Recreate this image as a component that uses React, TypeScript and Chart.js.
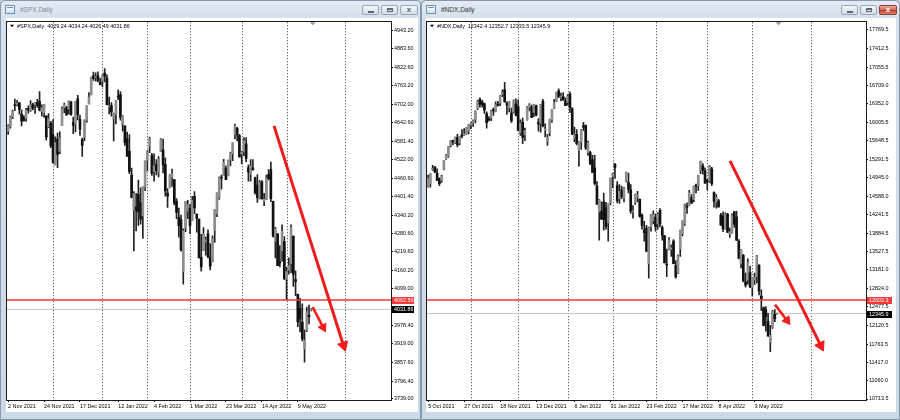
import React, { useEffect, useRef } from "react";
import { Chart, registerables } from "chart.js";
Chart.register(...registerables);

// ---------- calendar ----------
const holidays = ["2021-11-25", "2021-12-24", "2022-01-17", "2022-02-21", "2022-04-15"];
const monthNames = ["Jan", "Feb", "Mar", "Apr", "May", "Jun", "Jul", "Aug", "Sep", "Oct", "Nov", "Dec"];

// ---------- #SPX daily ----------
const spxStart = "2021-11-02";
const spxOpen = [4613,4630,4662,4699,4702,4707,4670,4659,4656,4689,4680,4702,4700,4708,4712,4679,4675,4664,4628,4640,
4602,4504,4589,4548,4632,4690,4691,4687,4711,4643,4637,4720,4652,4587,4594,4650,4703,4733,4795,4789,4795,4775,
4779,4804,4788,4693,4698,4655,4669,4729,4734,4637,4632,4589,4548,4471,4357,4366,4408,4381,4337,4431,
4519,4566,4535,4482,4505,4480,4548,4553,4506,4412,4430,4464,4456,4385,4332,4325,4156,4298,4354,
4363,4322,4401,4343,4327,4202,4224,4252,4279,4203,4188,4289,4345,4398,4462,4469,4494,4470,4522,4541,4603,4624,4600,
4540,4547,4573,4495,4474,4494,4462,4438,4396,4449,4385,4390,4473,4489,4385,4255,4279,4186,4223,4253,
4131,4160,4181,4271,4129,4081,4035,3990,3903,3963,4013,4029.24];
const spxHigh = [4635,4664,4683,4719,4715,4708,4684,4665,4689,4697,4714,4706,4708,4718,4744,4700,4702,4664,4672,4646,
4652,4596,4608,4612,4694,4706,4695,4713,4711,4660,4712,4731,4667,4592,4651,4697,4740,4791,4807,4805,4808,4787,
4798,4819,4798,4726,4708,4673,4714,4749,4744,4665,4632,4611,4603,4494,4417,4411,4454,4429,4432,4517,
4551,4595,4542,4540,4521,4531,4590,4588,4527,4427,4472,4490,4456,4394,4363,4340,4295,4385,4388,
4375,4401,4417,4343,4327,4277,4299,4268,4292,4247,4272,4358,4413,4465,4471,4522,4501,4520,4546,4576,4637,4627,4604,
4549,4593,4593,4504,4521,4521,4464,4472,4453,4453,4411,4471,4489,4513,4386,4300,4279,4240,4308,4270,
4169,4200,4308,4271,4158,4082,4068,4050,3965,4039,4046,4034.24];
const spxLow = [4604,4624,4655,4681,4697,4670,4631,4647,4646,4673,4679,4684,4672,4692,4680,4663,4659,4585,4626,4560,
4510,4504,4495,4541,4632,4675,4666,4670,4666,4606,4612,4651,4600,4532,4583,4643,4703,4733,4780,4778,4775,4765,
4759,4775,4700,4671,4663,4582,4638,4717,4650,4614,4568,4531,4475,4396,4223,4288,4306,4310,4264,4420,
4484,4544,4470,4451,4471,4465,4548,4478,4402,4365,4429,4434,4373,4328,4268,4222,4114,4286,4328,
4279,4322,4345,4284,4199,4157,4224,4209,4200,4161,4187,4251,4335,4391,4425,4469,4456,4468,4501,4518,4589,4582,4529,
4507,4534,4514,4451,4451,4487,4408,4381,4393,4392,4371,4390,4455,4384,4268,4200,4175,4171,4189,4129,
4062,4147,4152,4107,4077,3975,3958,3929,3859,3959,3984,4026.49];
const spxClose = [4631,4661,4680,4698,4702,4685,4647,4649,4683,4683,4701,4689,4705,4698,4683,4691,4701,4595,4655,4567,
4513,4577,4538,4592,4687,4701,4667,4712,4669,4634,4710,4669,4621,4568,4649,4697,4726,4791,4786,4793,4779,4766,
4797,4794,4701,4696,4677,4670,4713,4726,4659,4663,4577,4533,4483,4398,4410,4356,4350,4327,4432,4516,
4547,4589,4477,4501,4484,4522,4587,4504,4419,4402,4471,4475,4380,4349,4305,4226,4289,4385,4374,
4306,4387,4363,4329,4201,4171,4278,4260,4204,4173,4262,4358,4412,4463,4461,4512,4456,4520,4543,4576,4632,4602,4530,
4546,4583,4525,4481,4500,4488,4413,4397,4447,4393,4392,4462,4459,4394,4272,4296,4175,4184,4288,4132,
4155,4175,4300,4147,4123,3991,4001,3935,3930,4024,4008,4031.86];
const spxDateTicks = ["2 Nov 2021", "24 Nov 2021", "17 Dec 2021", "12 Jan 2022", "4 Feb 2022", "1 Mar 2022", "23 Mar 2022", "14 Apr 2022", "9 May 2022"];
const spxPriceTicks = [4943.2, 4883.6, 4822.6, 4763.2, 4702.0, 4642.6, 4581.4, 4522.0, 4460.6, 4401.4, 4340.2, 4280.6, 4219.6, 4160.2, 4099.0, 3978.4, 3919.0, 3857.6, 3796.4, 3739.0];
const spxLevel = 4062.56;
// trend arrows: [fromBar, fromPrice, toBar, toPrice]
const spxArrows = [
  [118.4, 4631.5, 149.35, 3913.9],
  [135.6, 4039.7, 140.3, 3972.9],
];

// ---------- #NDX daily ----------
const ndxStart = "2021-10-05";
const ndxOpen = [14775,14830,15100,15150,15030,14920,14890,15100,15300,15350,15560,15650,15600,15710,15600,15760,15760,15780,15830,
15950,15990,16040,16260,16440,16390,16360,16160,16050,16090,16250,16210,16350,16370,16530,16620,16370,16270,16180,16200,16350,
16300,15800,16000,15760,16050,16290,16290,16190,16320,16000,15980,16400,15850,15640,15800,16040,16270,16400,16600,16480,16490,16410,
16380,16540,16260,15690,15770,15460,15620,15940,15940,15420,15420,15290,15130,14780,14290,14300,14480,14370,14080,14460,
14970,15200,14790,14540,14710,14550,14880,14850,14710,14290,14470,14570,14530,14230,13940,13980,13300,14000,14120,
14190,14060,14320,13990,13830,13290,13570,13570,13730,13270,13120,13580,13870,14060,14400,14420,14560,14520,14790,14790,15080,15170,15080,
14890,14880,15110,14660,14470,14500,14230,14210,13970,14240,13870,13890,14290,14190,13730,13300,13460,12950,12990,13130,
12850,13000,13050,13270,12680,12460,12420,12200,11800,12080,12330,12342.4];
const ndxHigh = [14990,15020,15180,15150,15110,14940,14990,15270,15390,15540,15650,15660,15720,15770,15730,15860,15880,15900,15960,
16000,16050,16220,16420,16470,16420,16370,16200,16110,16230,16270,16390,16400,16510,16620,16764,16390,16400,16270,16430,16450,
16430,16050,16080,15890,16300,16360,16330,16340,16330,16070,16340,16440,15970,15770,16060,16250,16440,16580,16640,16560,16570,16470,
16530,16580,16280,15910,15860,15630,15860,16000,15950,15640,15450,15370,15370,14870,14530,14480,14650,14470,14445,14940,
15030,15210,14870,14810,14780,14760,15050,15030,14810,14410,14630,14680,14540,14250,14110,14030,14000,14240,14310,
14250,14270,14350,14020,13840,13580,13800,13660,13760,13360,13470,13940,14120,14440,14460,14700,14620,14780,14820,14990,15260,15210,15130,
14910,15180,15140,14670,14620,14530,14260,14290,14270,14260,13980,14250,14300,14300,13760,13570,13480,13120,13390,13250,
13030,13120,13460,13280,12800,12470,12480,12350,12120,12410,12420,12352.7];
const ndxLow = [14760,14760,15080,15040,14890,14790,14850,15090,15290,15330,15530,15570,15590,15530,15570,15700,15750,15770,15780,
15880,15920,15990,16240,16290,16290,16170,15890,16020,16030,16130,16200,16310,16320,16490,16380,16150,16200,16000,16180,16120,
15840,15750,15590,15650,16040,16220,16090,16110,16120,15830,15810,15910,15720,15560,15740,16000,16260,16400,16470,16410,16420,16320,
16330,16190,15765,15630,15570,15160,15480,15840,15480,15370,15190,15040,14800,14430,13750,14140,13940,13960,13730,14420,
14750,14930,14460,14450,14540,14480,14860,14650,14260,14170,14430,14480,14190,13960,13730,13530,13020,13920,14060,
13920,13960,14000,13750,13310,13050,13560,13440,13295,13020,13110,13440,13830,14030,14260,14410,14450,14480,14650,14700,15020,15010,14835,
14710,14850,14790,14380,14360,14380,14030,13910,13960,13890,13800,13880,13990,13740,13390,13220,12950,12850,12910,12840,
12680,12900,12930,12700,12400,12110,12010,11910,11620,12060,12190,12333.5];
const ndxClose = [14931,15005,15121,15049,14892,14829,14969,15268,15377,15536,15640,15620,15720,15569,15721,15735,15767,15887,15950,
15980,16030,16210,16400,16345,16339,16232,15994,16049,16222,16216,16340,16323,16497,16573,16393,16330,16390,16026,16417,16136,
15842,15990,15712,15844,16283,16336,16094,16330,16136,15963,16339,15938,15869,15709,16055,16246,16373,16574,16488,16486,16428,16320,
16501,16280,15772,15765,15592,15619,15854,15906,15513,15611,15213,15043,14832,14438,14521,14153,14139,14009,14440,14930,
15018,15139,14501,14687,14580,14742,15040,14720,14296,14311,14621,14617,14203,14032,13891,13538,13983,14234,14237,
14006,14244,14053,13838,13320,13274,13755,13600,13301,13047,13450,13937,14119,14420,14379,14660,14456,14778,14781,14988,15244,15088,14839,
14862,15173,14828,14491,14570,14383,14034,13964,14249,13900,13914,14220,14049,13750,13405,13567,12970,12890,13320,12855,
13020,13030,13450,12780,12620,12120,12290,11920,11930,12390,12250,12345.9];
const ndxDateTicks = ["5 Oct 2021", "27 Oct 2021", "18 Nov 2021", "13 Dec 2021", "6 Jan 2022", "31 Jan 2022", "23 Feb 2022", "17 Mar 2022", "8 Apr 2022", "3 May 2022"];
const ndxPriceTicks = [17769.5, 17412.5, 17055.5, 16709.0, 16352.0, 16005.5, 15648.5, 15291.5, 14945.0, 14588.0, 14241.5, 13884.5, 13527.5, 13181.0, 12824.0, 12477.5, 12120.5, 11763.5, 11417.0, 11060.0, 10713.5];
const ndxLevel = 12603.3;
const ndxArrows = [
  [134.1, 15265.0, 174.4, 11732.2],
  [154.1, 12516.9, 159.4, 12214.0],
];

// ---------- styles ----------
const FONT_FAMILY = "'Liberation Sans', Arial, sans-serif";
const AXIS_FONT_SIZE = 5.4;
const BULL = "#8e8e8e";
const BEAR = "#111111";
const WICK = "#222222";
const BID_COLOR = "#c4c4c4";
const LEVEL_COLOR = "#f23a3a";
const ARROW_COLOR = "#f01c1c";
const ARROW_STYLES = [{ width: 3, head: 6 }, { width: 2.6, head: 5 }];

interface PaneConfig {
  symbol: string;
  start: string;
  open: number[]; high: number[]; low: number[]; close: number[];
  dateTicks: string[];
  priceTicks: number[];
  level: number;
  arrows: number[][];
  decimals: number;
  yMin: number; yMax: number;
  slots: number;
  futureSeparatorGap: number;
  axisWidth: number; xAxisHeight: number; padLeft: number; padTop: number;
  boxWidth: number;
}

function tradingDays(start: string, count: number): Date[] {
  const out: Date[] = [];
  const d = new Date(start + "T00:00:00Z");
  while (out.length < count) {
    const dow = d.getUTCDay();
    const iso = d.toISOString().slice(0, 10);
    if (dow !== 0 && dow !== 6 && !holidays.includes(iso)) out.push(new Date(d.getTime()));
    d.setUTCDate(d.getUTCDate() + 1);
  }
  return out;
}
const fmtDate = (d: Date) => `${d.getUTCDate()} ${monthNames[d.getUTCMonth()]} ${d.getUTCFullYear()}`;

function arrowDataset(a: number[], st: { width: number; head: number }) {
  const [x1, y1, x2, y2] = a;
  return {
    type: "line",
    xAxisID: "xl",
    data: [{ x: x1, y: y1 }, { x: x2, y: y2 }],
    borderColor: ARROW_COLOR,
    borderWidth: st.width,
    borderCapStyle: "butt",
    pointRadius: (c: any) => (c.dataIndex === 1 ? st.head : 0),
    pointStyle: "triangle",
    pointBackgroundColor: ARROW_COLOR,
    pointBorderColor: ARROW_COLOR,
    pointBorderWidth: 1,
    pointRotation: (c: any) => {
      const xs = c.chart.scales.xl, ys = c.chart.scales.y;
      const dx = xs.getPixelForValue(x2) - xs.getPixelForValue(x1);
      const dy = ys.getPixelForValue(y2) - ys.getPixelForValue(y1);
      return (Math.atan2(dx, -dy) * 180) / Math.PI;
    },
    order: 1,
  };
}

function buildChart(canvas: HTMLCanvasElement, p: PaneConfig) {
  const n = p.close.length;
  const dates = tradingDays(p.start, n);
  const labels: string[] = [];
  for (let i = 0; i < p.slots; i++) labels.push(i < n ? fmtDate(dates[i]) : "");
  const tickIdx = labels.map((l, i) => (l && p.dateTicks.includes(l) ? i : -1)).filter((i) => i >= 0);
  const separators: number[] = [];
  for (let i = 1; i < n; i++) if (dates[i].getUTCMonth() !== dates[i - 1].getUTCMonth()) separators.push(i);
  separators.push(separators[separators.length - 1] + p.futureSeparatorGap);

  const wick = p.low.map((l, i) => [l, p.high[i]]);
  const body = p.open.map((o, i) => [Math.min(o, p.close[i]), Math.max(o, p.close[i])]);
  const bodyColors = p.open.map((o, i) => (p.close[i] >= o ? BULL : BEAR));
  const last = n - 1;
  const xMin = -0.5, xMax = p.slots - 0.5;
  const hLine = (y: number) => [{ x: xMin, y }, { x: xMax, y }];
  const font = { family: FONT_FAMILY, size: AXIS_FONT_SIZE };
  const fontStr = `${AXIS_FONT_SIZE}px ${FONT_FAMILY}`;
  const fmt = (v: number) => v.toFixed(p.decimals);

  const decor = {
    id: "mtDecor",
    beforeDatasetsDraw(chart: any) {
      const { ctx, chartArea: a, scales } = chart;
      ctx.save();
      ctx.strokeStyle = "#3a3a3a";
      ctx.lineWidth = 1;
      ctx.setLineDash([1, 2]);
      for (const i of separators) {
        const px = Math.round(scales.x.getPixelForValue(i)) + 0.5;
        ctx.beginPath();
        ctx.moveTo(px, a.top);
        ctx.lineTo(px, a.bottom);
        ctx.stroke();
      }
      ctx.restore();
    },
    afterDraw(chart: any) {
      const { ctx, chartArea: a, scales } = chart;
      const ys = scales.y;
      ctx.save();
      // frame
      ctx.strokeStyle = "#1a1a1a";
      ctx.lineWidth = 1;
      ctx.strokeRect(Math.round(a.left) - 0.5, Math.round(a.top) - 0.5, Math.round(a.right - a.left) + 1, Math.round(a.bottom - a.top) + 1);
      // header
      ctx.fillStyle = "#000";
      const hx = a.left + 3, hy = a.top + 4;
      ctx.beginPath();
      ctx.moveTo(hx, hy - 1.5);
      ctx.lineTo(hx + 4, hy - 1.5);
      ctx.lineTo(hx + 2, hy + 1);
      ctx.closePath();
      ctx.fill();
      ctx.font = fontStr;
      ctx.textBaseline = "middle";
      ctx.textAlign = "left";
      ctx.fillText(`${p.symbol},Daily  ${fmt(p.open[last])} ${fmt(p.high[last])} ${fmt(p.low[last])} ${fmt(p.close[last])}`, hx + 7, hy);
      // chart shift marker
      const sx = scales.x.getPixelForValue(last) + 1.5;
      ctx.fillStyle = "#9a9a9a";
      ctx.beginPath();
      ctx.moveTo(sx - 3, a.top);
      ctx.lineTo(sx + 3, a.top);
      ctx.lineTo(sx, a.top + 3);
      ctx.closePath();
      ctx.fill();
      // price boxes
      const box = (val: number, bg: string) => {
        const y = ys.getPixelForValue(val);
        ctx.fillStyle = bg;
        ctx.fillRect(a.right + 1, Math.round(y) - 3, p.boxWidth, 7);
        ctx.fillStyle = "#fff";
        ctx.fillText(fmt(val), a.right + 3, Math.round(y) + 0.5);
      };
      box(p.level, LEVEL_COLOR);
      box(p.close[last], "#000");
      ctx.restore();
    },
  };

  const datasets: any[] = [
    { type: "line", xAxisID: "xl", data: hLine(p.close[last]), borderColor: BID_COLOR, borderWidth: 1, pointRadius: 0, order: 6 },
    { type: "bar", data: wick, backgroundColor: WICK, barThickness: 1, grouped: false, order: 5 },
    { type: "bar", data: body, backgroundColor: bodyColors, barThickness: 2, minBarLength: 1, grouped: false, order: 4 },
    { type: "line", xAxisID: "xl", data: hLine(p.level), borderColor: LEVEL_COLOR, borderWidth: 1.5, pointRadius: 0, order: 3 },
    ...p.arrows.map((a, k) => arrowDataset(a, ARROW_STYLES[k])),
  ];

  return new Chart(canvas, {
    type: "bar",
    data: { labels, datasets },
    plugins: [decor],
    options: {
      animation: false,
      responsive: false,
      devicePixelRatio: 1,
      events: [],
      layout: { autoPadding: false, padding: { left: p.padLeft, top: p.padTop, right: 0, bottom: 0 } },
      plugins: { legend: { display: false }, tooltip: { enabled: false } },
      scales: {
        x: {
          type: "category",
          offset: true,
          afterBuildTicks: (s: any) => {
            s.ticks = s.ticks.filter((t: any) => tickIdx.includes(t.value));
          },
          afterFit: (s: any) => {
            s.height = p.xAxisHeight;
          },
          ticks: {
            autoSkip: false,
            maxRotation: 0,
            minRotation: 0,
            align: "start",
            padding: 1.5,
            color: "#000",
            font,
            callback: (v: any) => labels[v],
          },
          grid: { drawOnChartArea: false, drawTicks: true, tickLength: 2, offset: false, color: "#000" },
          border: { display: true, color: "#1a1a1a" },
        },
        xl: { type: "linear", axis: "x", display: false, min: xMin, max: xMax, offset: false },
        y: {
          type: "linear",
          position: "right",
          min: p.yMin,
          max: p.yMax,
          afterBuildTicks: (s: any) => {
            s.ticks = p.priceTicks.map((v) => ({ value: v }));
          },
          afterFit: (s: any) => {
            s.width = p.axisWidth;
          },
          ticks: { autoSkip: false, padding: 1, color: "#000", font, callback: (v: any) => Number(v).toFixed(p.decimals) },
          grid: { drawOnChartArea: false, drawTicks: true, tickLength: 2, color: "#000" },
          border: { display: true, color: "#1a1a1a" },
        },
      },
    } as any,
  });
}

const spxConfig: PaneConfig = {
  symbol: "#SPX", start: spxStart,
  open: spxOpen, high: spxHigh, low: spxLow, close: spxClose,
  dateTicks: spxDateTicks, priceTicks: spxPriceTicks, level: spxLevel, arrows: spxArrows,
  decimals: 2, yMin: 3735.7, yMax: 4970.2, slots: 171, futureSeparatorGap: 26,
  axisWidth: 27, xAxisHeight: 12, padLeft: 1, padTop: 3, boxWidth: 22,
};
const ndxConfig: PaneConfig = {
  symbol: "#NDX", start: ndxStart,
  open: ndxOpen, high: ndxHigh, low: ndxLow, close: ndxClose,
  dateTicks: ndxDateTicks, priceTicks: ndxPriceTicks, level: ndxLevel, arrows: ndxArrows,
  decimals: 1, yMin: 10694.5, yMax: 17912.3, slots: 195, futureSeparatorGap: 26,
  axisWidth: 30, xAxisHeight: 12, padLeft: 1, padTop: 3, boxWidth: 25,
};

function Pane({ cfg, width, height }: { cfg: PaneConfig; width: number; height: number }) {
  const ref = useRef<HTMLCanvasElement | null>(null);
  useEffect(() => {
    const chart = buildChart(ref.current as HTMLCanvasElement, cfg);
    return () => chart.destroy();
  }, [cfg]);
  return <canvas ref={ref} width={width} height={height} style={{ display: "block", width, height }} />;
}

function Btn({ right, w, kind, red }: { right: number; w: number; kind: string; red?: boolean }) {
  const base: React.CSSProperties = {
    position: "absolute", top: 4, right, width: w, height: 10, boxSizing: "border-box",
    borderRadius: 2,
    border: red ? "1px solid #8e3b31" : "1px solid #95a6ba",
    background: red ? "linear-gradient(180deg,#eab1a4 0%,#d26a58 45%,#c2432f 55%,#d9836f 100%)" : "linear-gradient(180deg,#f4f7fa 0%,#e1e8ef 50%,#d2dce6 100%)",
  };
  const glyph = red ? "#fff" : "#5b6777";
  return (
    <div style={base}>
      {kind === "min" && <div style={{ position: "absolute", left: 5, top: 5, width: 6, height: 1.5, background: glyph }} />}
      {kind === "max" && <div style={{ position: "absolute", left: 5, top: 2, width: 6, height: 4, border: `1px solid ${glyph}`, borderTopWidth: 2, boxSizing: "border-box" }} />}
      {kind === "close" && (
        <div style={{ position: "absolute", left: 0, top: -1, width: "100%", textAlign: "center", fontSize: 8, lineHeight: "10px", color: glyph, fontFamily: FONT_FAMILY, fontWeight: 700 }}>x</div>
      )}
    </div>
  );
}

function MTWindow(props: { left: number; width: number; title: string; active: boolean; clientLeft: number; clientWidth: number; children: any }) {
  const { left, width, title, active, clientLeft, clientWidth, children } = props;
  return (
    <div
      style={{
        position: "absolute", left, top: 0, width, height: 420, boxSizing: "border-box",
        border: "1px solid #8798ad", borderRadius: "5px 5px 0 0",
        background: "linear-gradient(180deg,#e3ebf4 0px,#d5e0ec 17px,#cbd8e6 100%)",
      }}
    >
      <div style={{ position: "absolute", left: 4, top: 4, width: 10, height: 9, boxSizing: "border-box", border: "1px solid #6c8fb6", background: "linear-gradient(180deg,#ffffff,#cfe0f1)" }}>
        <div style={{ position: "absolute", left: 1, top: 1, width: 6, height: 1, background: "#6c8fb6" }} />
      </div>
      <div style={{ position: "absolute", left: 19, top: 5, fontSize: 6.5, lineHeight: "8px", color: active ? "#333" : "#7f8b99", fontFamily: FONT_FAMILY, whiteSpace: "nowrap" }}>{title}</div>
      <Btn right={2} w={18} kind="close" red={active} />
      <Btn right={22} w={17} kind="max" />
      <Btn right={41} w={17} kind="min" />
      <div style={{ position: "absolute", left: clientLeft, top: 17, width: clientWidth, height: 394, background: "#fff" }}>{children}</div>
    </div>
  );
}

export default function App() {
  return (
    <div style={{ position: "fixed", left: 0, top: 0, width: 900, height: 420, background: "#c0cddb", overflow: "hidden", fontFamily: FONT_FAMILY }}>
      <MTWindow left={0} width={421} title="#SPX,Daily" active={false} clientLeft={5} clientWidth={412}>
        <Pane cfg={spxConfig} width={412} height={394} />
      </MTWindow>
      <MTWindow left={421} width={479} title="#NDX,Daily" active={true} clientLeft={4} clientWidth={470}>
        <Pane cfg={ndxConfig} width={470} height={394} />
      </MTWindow>
    </div>
  );
}
